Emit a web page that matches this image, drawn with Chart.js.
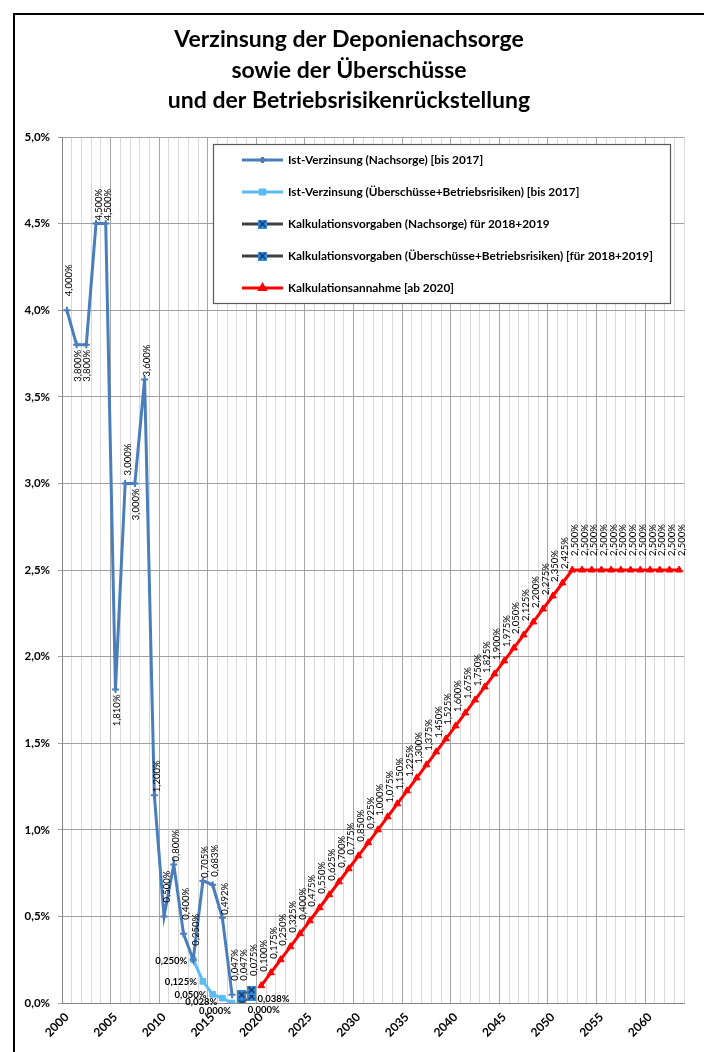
<!DOCTYPE html>
<html><head><meta charset="utf-8">
<script src="https://cdn.jsdelivr.net/npm/chart.js@4.4.1/dist/chart.umd.min.js"></script>
<style>html,body{margin:0;padding:0;background:#fff;}canvas{display:block;}</style>
</head><body>
<canvas id="c" width="704" height="1052"></canvas>
<script>
// ---------- DATA ----------
const titleLines = ['Verzinsung der Deponienachsorge', 'sowie der Überschüsse', 'und der Betriebsrisikenrückstellung'];

const years = ['2000','2001','2002','2003','2004','2005','2006','2007','2008','2009',
  '2010','2011','2012','2013','2014','2015','2016','2017','2018','2019',
  '2020','2021','2022','2023','2024','2025','2026','2027','2028','2029',
  '2030','2031','2032','2033','2034','2035','2036','2037','2038','2039',
  '2040','2041','2042','2043','2044','2045','2046','2047','2048','2049',
  '2050','2051','2052','2053','2054','2055','2056','2057','2058','2059',
  '2060','2061','2062','2063'];

const seriesNames = [
  'Ist-Verzinsung (Nachsorge) [bis 2017]',
  'Ist-Verzinsung (Überschüsse+Betriebsrisiken) [bis 2017]',
  'Kalkulationsvorgaben (Nachsorge) für 2018+2019',
  'Kalkulationsvorgaben (Überschüsse+Betriebsrisiken) [für 2018+2019]',
  'Kalkulationsannahme [ab 2020]'
];

// Ist-Verzinsung (Nachsorge), from 2000
const nachsorgeStart = '2000';
const nachsorge = [4.000, 3.800, 3.800, 4.500, 4.500, 1.810, 3.000, 3.000, 3.600, 1.200,
                   0.500, 0.800, 0.400, 0.250, 0.705, 0.683, 0.492, 0.047];

// Ist-Verzinsung (Überschüsse+Betriebsrisiken), from 2013
const ueberschussStart = '2013';
const ueberschuss = [0.250, 0.125, 0.050, 0.028, 0.000];

// Kalkulationsvorgaben (Nachsorge), from 2018
const vorgabeNStart = '2018';
const vorgabeN = [0.047, 0.075];

// Kalkulationsvorgaben (Überschüsse+Betriebsrisiken), from 2018
const vorgabeUStart = '2018';
const vorgabeU = [0.000, 0.038];

// Kalkulationsannahme, from 2020
const annahmeStart = '2020';
const annahme = [0.100, 0.175, 0.250, 0.325, 0.400, 0.475, 0.550, 0.625, 0.700, 0.775,
                 0.850, 0.925, 1.000, 1.075, 1.150, 1.225, 1.300, 1.375, 1.450, 1.525,
                 1.600, 1.675, 1.750, 1.825, 1.900, 1.975, 2.050, 2.125, 2.200, 2.275,
                 2.350, 2.425, 2.500, 2.500, 2.500, 2.500, 2.500, 2.500, 2.500, 2.500,
                 2.500, 2.500, 2.500, 2.500];

const yMin = 0, yMax = 5, yStep = 0.5;

// label placement per point (style info, kept apart from the values)
const nachsorgeLabelPos = ['up','down','down','upNear','upNear','down','upMid','down','upNear','upNear',
                           'up','upNear','up','up','upNear','upMid','upNear','up'];
const ueberschussLabelPos = ['left','left','left','leftLow','leftBelow'];
const vorgabeNLabelPos = ['up','up'];
const vorgabeULabelPos = ['rightBelow','right'];
const annahmeLabelPos = 'up';

// ---------- helpers ----------
function place(start, values) {
  const s = years.indexOf(start);
  return years.map((y, i) => (i >= s && i - s < values.length) ? values[i - s] : null);
}
function fmtPct(v, d) { return v.toFixed(d).replace('.', ',') + '%'; }
function boxMarker(fill, stroke) {
  const c = document.createElement('canvas');
  c.width = 9; c.height = 9;
  const g = c.getContext('2d');
  g.fillStyle = fill; g.fillRect(0, 0, 9, 9);
  g.strokeStyle = stroke; g.lineWidth = 1.4;
  g.beginPath(); g.moveTo(1.5, 1.5); g.lineTo(7.5, 7.5); g.moveTo(7.5, 1.5); g.lineTo(1.5, 7.5); g.stroke();
  return c;
}
const FONT = 'Lato, "Open Sans", sans-serif';
const upGap = { up: 14, upMid: 8, upNear: 3 };

const labelPositions = [nachsorgeLabelPos, ueberschussLabelPos, vorgabeNLabelPos, vorgabeULabelPos, annahmeLabelPos];
const labelOffsetIdx = [nachsorgeStart, ueberschussStart, vorgabeNStart, vorgabeUStart, annahmeStart].map(s => years.indexOf(s));

// ---------- plugins ----------
const bgPlugin = {
  id: 'bg',
  beforeDraw(chart) {
    const ctx = chart.ctx;
    ctx.save();
    ctx.fillStyle = '#fff';
    ctx.fillRect(0, 0, chart.width, chart.height);
    ctx.restore();
  },
  afterDraw(chart) {
    const ctx = chart.ctx;
    ctx.save();
    ctx.strokeStyle = '#000';
    ctx.lineWidth = 2;
    ctx.strokeRect(14, 14, chart.width + 100, chart.height + 100);
    ctx.fillStyle = '#000';
    ctx.font = 'bold 23px ' + FONT;
    ctx.textAlign = 'center';
    ctx.textBaseline = 'alphabetic';
    const cx = 349;
    const base = [47, 78, 108];
    titleLines.forEach((t, i) => ctx.fillText(t, cx, base[i]));
    ctx.restore();
  }
};

const labelPlugin = {
  id: 'pointLabels',
  afterDatasetsDraw(chart) {
    const ctx = chart.ctx;
    ctx.save();
    ctx.fillStyle = '#000';
    chart.data.datasets.forEach((ds, di) => {
      const meta = chart.getDatasetMeta(di);
      const posDef = labelPositions[di];
      meta.data.forEach((pt, i) => {
        const v = ds.data[i];
        if (v === null || v === undefined) return;
        const k = i - labelOffsetIdx[di];
        const pos = Array.isArray(posDef) ? posDef[k] : posDef;
        const txt = fmtPct(v, 3);
        const x = pt.x, y = pt.y;
        ctx.save();
        if (pos in upGap || pos === 'down') {
          ctx.font = '9.5px ' + FONT;
          ctx.textBaseline = 'middle';
          if (pos === 'down') {
            ctx.translate(x + 1, y + 5);
            ctx.rotate(-Math.PI / 2);
            ctx.textAlign = 'right';
          } else {
            ctx.translate(x + 2.5, y - upGap[pos]);
            ctx.rotate(-Math.PI / 2);
            ctx.textAlign = 'left';
          }
          ctx.fillText(txt, 0, 0);
        } else {
          ctx.font = 'bold 9.5px ' + FONT;
          ctx.textBaseline = 'middle';
          let tx = x, ty = y;
          if (pos === 'left') { ctx.textAlign = 'right'; tx = x - 6; ty = y + 1; }
          else if (pos === 'leftLow') { ctx.textAlign = 'right'; tx = x - 5; ty = y + 4; }
          else if (pos === 'leftBelow') { ctx.textAlign = 'right'; tx = x - 1; ty = y + 8; }
          else if (pos === 'right') { ctx.textAlign = 'left'; tx = x + 6; ty = y + 3; }
          else if (pos === 'rightBelow') { ctx.textAlign = 'left'; tx = x + 6; ty = y + 7; }
          ctx.fillText(txt, tx, ty);
        }
        ctx.restore();
      });
    });
    ctx.restore();
  }
};

const legendPlugin = {
  id: 'boxLegend',
  afterDraw(chart) {
    const ctx = chart.ctx;
    const a = chart.chartArea;
    const bx = a.left + 151, by = a.top + 7, bw = 457, bh = 159;
    ctx.save();
    ctx.fillStyle = '#fff';
    ctx.fillRect(bx, by, bw, bh);
    ctx.strokeStyle = '#595959';
    ctx.lineWidth = 1.2;
    ctx.strokeRect(bx + 0.5, by + 0.5, bw, bh);
    chart.data.datasets.forEach((ds, i) => {
      const y = by + 16 + i * 32;
      const x1 = bx + 29, x2 = bx + 70;
      ctx.strokeStyle = ds.borderColor;
      ctx.lineWidth = 3;
      ctx.beginPath(); ctx.moveTo(x1, y); ctx.lineTo(x2, y); ctx.stroke();
      ctx.fillStyle = ds.pointBackgroundColor || ds.borderColor;
      ctx.strokeStyle = ds.pointBorderColor || ds.borderColor;
      Chart.helpers.drawPoint(ctx, {
        pointStyle: ds.pointStyle,
        radius: Math.min(ds.pointRadius, 3),
        borderWidth: ds.pointBorderWidth || 1,
        rotation: 0
      }, (x1 + x2) / 2, y);
      ctx.fillStyle = '#000';
      ctx.font = 'bold 11.8px ' + FONT;
      ctx.textAlign = 'left';
      ctx.textBaseline = 'middle';
      ctx.fillText(ds.label, bx + 75, y);
    });
    ctx.restore();
  }
};

// ---------- chart ----------
const markerN = boxMarker('#2F8CE0', '#1B2F55');
const markerU = boxMarker('#2F8CE0', '#1B2F55');

new Chart(document.getElementById('c'), {
  type: 'line',
  data: {
    labels: years,
    datasets: [
      { label: seriesNames[0], data: place(nachsorgeStart, nachsorge),
        borderColor: '#4A7EBB', backgroundColor: '#4A7EBB', pointBackgroundColor: '#4A7EBB', pointBorderColor: '#4A7EBB',
        borderWidth: 3, pointStyle: 'cross', pointRadius: 3.5, pointBorderWidth: 2 },
      { label: seriesNames[1], data: place(ueberschussStart, ueberschuss),
        borderColor: '#5BBCF5', backgroundColor: '#5BBCF5', pointBackgroundColor: '#5BBCF5', pointBorderColor: '#5BBCF5',
        borderWidth: 3, pointStyle: 'rect', pointRadius: 4, pointBorderWidth: 1 },
      { label: seriesNames[2], data: place(vorgabeNStart, vorgabeN),
        borderColor: '#404040', backgroundColor: '#404040',
        borderWidth: 2, pointStyle: markerN, pointRadius: 4.5, pointBorderWidth: 1 },
      { label: seriesNames[3], data: place(vorgabeUStart, vorgabeU),
        borderColor: '#404040', backgroundColor: '#404040',
        borderWidth: 2, pointStyle: markerU, pointRadius: 4.5, pointBorderWidth: 1 },
      { label: seriesNames[4], data: place(annahmeStart, annahme),
        borderColor: '#FF0000', backgroundColor: '#FF0000', pointBackgroundColor: '#FF0000', pointBorderColor: '#FF0000',
        borderWidth: 3, pointStyle: 'triangle', pointRadius: 4, pointBorderWidth: 1 }
    ]
  },
  options: {
    responsive: false,
    animation: false,
    devicePixelRatio: 1,
    spanGaps: false,
    layout: { padding: { top: 137, right: 20, left: 0, bottom: 0 } },
    plugins: { legend: { display: false }, tooltip: { enabled: false }, title: { display: false } },
    scales: {
      x: {
        type: 'category',
        offset: true,
        grid: {
          offset: true,
          drawTicks: false,
          lineWidth: 1,
          color: c => (c.index % 5 === 0 ? '#A6A6A6' : '#D9D9D9')
        },
        border: { color: '#868686', width: 1 },
        ticks: {
          autoSkip: false, maxRotation: 45, minRotation: 45, padding: 7,
          color: '#000', font: { family: FONT, weight: 'bold', size: 12 },
          callback: (v, i) => (Number(years[i]) % 5 === 0 ? years[i] : '')
        },
        afterFit: s => { s.height = 49; }
      },
      y: {
        min: yMin, max: yMax,
        grid: { color: '#A0A0A0', tickLength: 4, lineWidth: 1 },
        border: { color: '#868686', width: 1 },
        ticks: {
          stepSize: yStep, padding: 8, color: '#000',
          font: { family: FONT, weight: 'bold', size: 11.5 },
          callback: v => fmtPct(Number(v), 1)
        },
        afterFit: s => { s.width = 62; }
      }
    }
  },
  plugins: [bgPlugin, labelPlugin, legendPlugin]
});
</script>
</body></html>
